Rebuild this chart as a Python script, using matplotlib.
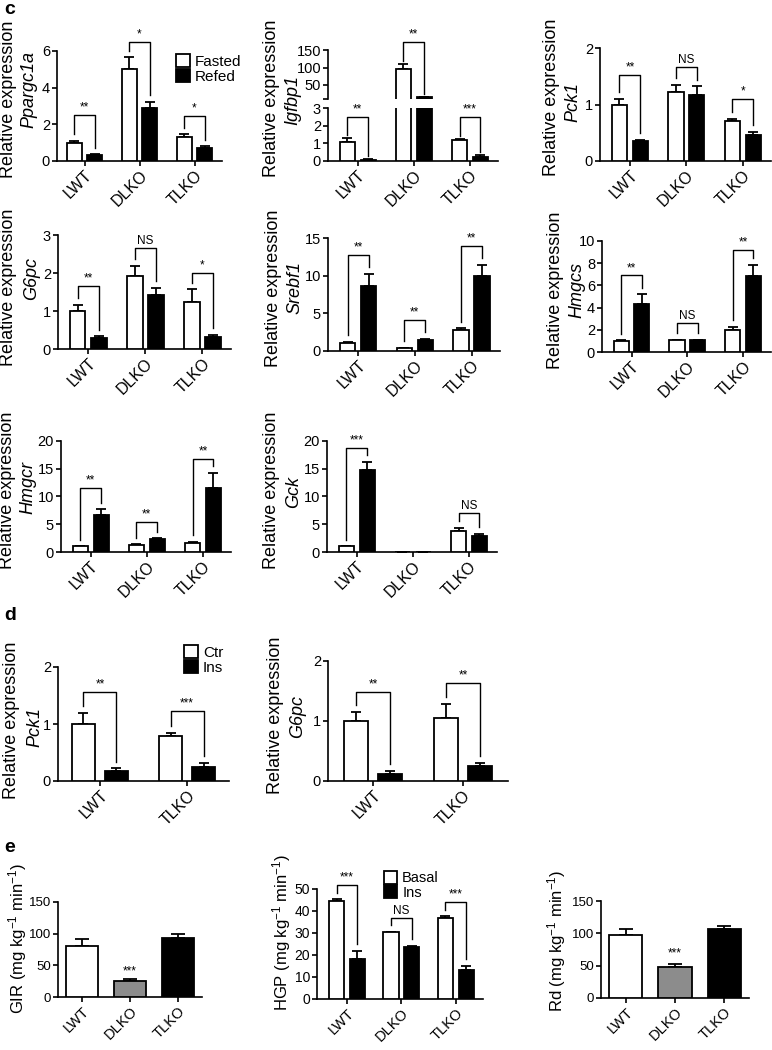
import numpy as np
import matplotlib
matplotlib.use('Agg')
import matplotlib.pyplot as plt
from matplotlib.patches import Patch

plt.rcParams['font.family'] = ['Liberation Sans', 'DejaVu Sans']
plt.rcParams['mathtext.fontset'] = 'custom'
plt.rcParams['mathtext.rm'] = 'Liberation Sans'
plt.rcParams['mathtext.it'] = 'Liberation Sans:italic'
plt.rcParams['axes.linewidth'] = 1.2

# --- data ---
groups3 = ['LWT', 'DLKO', 'TLKO']
groups2 = ['LWT', 'TLKO']

ppargc1a_fasted = [1.0, 5.0, 1.3];   ppargc1a_fasted_err = [0.1, 0.65, 0.15]
ppargc1a_refed = [0.33, 2.9, 0.7];   ppargc1a_refed_err = [0.04, 0.32, 0.1]
ppargc1a_sig = ['**', '*', '*'];     ppargc1a_br = [2.5, 6.5, 2.45]

igfbp1_fasted = [1.1, 95, 1.2];      igfbp1_fasted_err = [0.2, 15, 0.05]
igfbp1_refed = [0.08, 15, 0.25];     igfbp1_refed_err = [0.02, 2, 0.1]
igfbp1_sig = ['**', '**', '***'];    igfbp1_br = [2.5, 173, 2.5]

pck1_fasted = [1.0, 1.22, 0.7];      pck1_fasted_err = [0.1, 0.13, 0.05]
pck1_refed = [0.36, 1.17, 0.46];     pck1_refed_err = [0.01, 0.15, 0.05]
pck1_sig = ['**', 'NS', '*'];        pck1_br = [1.52, 1.66, 1.1]

g6pc_fasted = [1.0, 1.92, 1.25];     g6pc_fasted_err = [0.17, 0.27, 0.32]
g6pc_refed = [0.28, 1.43, 0.32];     g6pc_refed_err = [0.05, 0.17, 0.04]
g6pc_sig = ['**', 'NS', '*'];        g6pc_br = [1.66, 2.66, 2.0]

srebf1_fasted = [1.0, 0.35, 2.8];    srebf1_fasted_err = [0.2, 0.05, 0.2]
srebf1_refed = [8.6, 1.45, 9.9];     srebf1_refed_err = [1.6, 0.2, 1.5]
srebf1_sig = ['**', '**', '**'];     srebf1_br = [12.8, 4.1, 13.9]

hmgcs_fasted = [1.0, 1.05, 2.0];     hmgcs_fasted_err = [0.05, 0.05, 0.25]
hmgcs_refed = [4.35, 1.05, 6.85];    hmgcs_refed_err = [0.85, 0.05, 1.0]
hmgcs_sig = ['**', 'NS', '**'];      hmgcs_br = [6.9, 2.6, 9.2]

hmgcr_fasted = [1.0, 1.3, 1.7];      hmgcr_fasted_err = [0.05, 0.1, 0.1]
hmgcr_refed = [6.6, 2.3, 11.6];      hmgcr_refed_err = [1.1, 0.15, 2.7]
hmgcr_sig = ['**', '**', '**'];      hmgcr_br = [11.5, 5.4, 16.8]

gck_fasted = [1.0, 0.08, 3.8];       gck_fasted_err = [0.05, 0.0, 0.6]
gck_refed = [14.8, 0.06, 2.8];       gck_refed_err = [1.4, 0.0, 0.5]
gck_sig = ['***', '', 'NS'];         gck_br = [18.7, 0, 7.0]

d_pck1_ctr = [1.0, 0.79];            d_pck1_ctr_err = [0.2, 0.05]
d_pck1_ins = [0.18, 0.25];           d_pck1_ins_err = [0.04, 0.07]
d_pck1_sig = ['**', '***'];          d_pck1_br = [1.56, 1.23]

d_g6pc_ctr = [1.0, 1.05];            d_g6pc_ctr_err = [0.15, 0.23]
d_g6pc_ins = [0.12, 0.25];           d_g6pc_ins_err = [0.04, 0.05]
d_g6pc_sig = ['**', '**'];           d_g6pc_br = [1.48, 1.63]

gir = [80, 25, 93];                  gir_err = [12, 3, 6]
hgp_basal = [44.5, 30.3, 36.8];      hgp_basal_err = [0.8, 0.3, 0.8]
hgp_ins = [18, 23.8, 13.2];          hgp_ins_err = [4, 0.3, 1.8]
hgp_sig = ['***', 'NS', '***'];      hgp_br = [52, 36.8, 44]
rd = [98, 48, 106];                  rd_err = [8, 4, 5]
e_colors = ['white', '#8c8c8c', 'black']

W, H = 772, 1050
fig = plt.figure(figsize=(W / 100, H / 100), dpi=100)

LW = 1.3


def add_ax(l, r, t, b):
    return fig.add_axes([l / W, 1 - b / H, (r - l) / W, (b - t) / H])


def style(ax, ylim, yticks, xlim, labels, yfs=10.5, xfs=11.5):
    ax.set_ylim(ylim)
    ax.set_yticks(yticks)
    ax.set_xlim(xlim)
    ax.set_xticks(range(len(labels)))
    ax.set_xticklabels(labels, rotation=45, ha='right', rotation_mode='anchor')
    for s in ['top', 'right']:
        ax.spines[s].set_visible(False)
    ax.tick_params(length=3.5, width=1.2, pad=1.5)
    ax.tick_params(axis='y', labelsize=yfs)
    ax.tick_params(axis='x', labelsize=xfs)


def pair_bars(ax, a, ae, b, be, width=0.27, off=0.185):
    x = np.arange(len(a))
    ax.bar(x - off, a, width, color='white', edgecolor='black', linewidth=LW, zorder=3)
    ax.bar(x + off, b, width, color='black', edgecolor='black', linewidth=LW, zorder=3)
    z = np.zeros(len(a))
    ax.errorbar(x - off, a, yerr=[z, ae], fmt='none', ecolor='black',
                elinewidth=LW, capsize=3.5, capthick=LW, zorder=2)
    ax.errorbar(x + off, b, yerr=[z, be], fmt='none', ecolor='black',
                elinewidth=LW, capsize=3.5, capthick=LW, zorder=2)


def bracket(ax, x1, x2, y1, y2, yb, txt):
    span = ax.get_ylim()[1] - ax.get_ylim()[0]
    y1 = min(y1 + 0.06 * span, yb - 0.05 * span)
    y2 = min(y2 + 0.06 * span, yb - 0.05 * span)
    ax.plot([x1, x1, x2, x2], [y1, yb, yb, y2], color='black', lw=1.0,
            clip_on=False, zorder=4)
    ax.annotate(txt, ((x1 + x2) / 2, yb), xytext=(0, 1), textcoords='offset points',
                ha='center', va='bottom', fontsize=8.5, annotation_clip=False)


def brackets(ax, a, ae, b, be, sig, br, off=0.185):
    for i in range(len(a)):
        if sig[i]:
            bracket(ax, i - off, i + off, a[i] + ae[i], b[i] + be[i], br[i], sig[i])


def ylab(x1, x2, y1, y2, gene):
    fig.text(x1 / W, 1 - y1 / H, 'Relative expression', rotation=90,
             ha='center', va='center', fontsize=13)
    fig.text(x2 / W, 1 - y2 / H, gene, rotation=90, style='italic',
             ha='center', va='center', fontsize=13)


def pair_legend(ax, labels, x, y, fs=11):
    handles = [Patch(facecolor='white', edgecolor='black', linewidth=LW),
               Patch(facecolor='black', edgecolor='black', linewidth=LW)]
    ax.legend(handles, labels, loc='upper left', bbox_to_anchor=(x / W, 1 - y / H),
              bbox_transform=fig.transFigure, frameon=False, fontsize=fs,
              handlelength=0.9, handleheight=0.95, labelspacing=0.0,
              handletextpad=0.35, borderpad=0, borderaxespad=0)


XL3 = (-0.53, 2.5)

# ---------------- panel c ----------------
ax = add_ax(57, 222, 51, 161)
pair_bars(ax, ppargc1a_fasted, ppargc1a_fasted_err, ppargc1a_refed, ppargc1a_refed_err)
style(ax, (0, 6), [0, 2, 4, 6], (-0.5, 2.5), groups3)
brackets(ax, ppargc1a_fasted, ppargc1a_fasted_err, ppargc1a_refed, ppargc1a_refed_err,
         ppargc1a_sig, ppargc1a_br)
pair_legend(ax, ['Fasted', 'Refed'], 176, 54)
ylab(9, 29, 99, 90, 'Ppargc1a')

# Igfbp1 with broken axis
ax_t = add_ax(328, 498, 50, 99)
ax_b = add_ax(328, 498, 108, 161)
for a_ in (ax_t, ax_b):
    pair_bars(a_, igfbp1_fasted, igfbp1_fasted_err, igfbp1_refed, igfbp1_refed_err)
style(ax_b, (0, 3), [0, 1, 2, 3], XL3, groups3)
style(ax_t, (10, 150), [10, 50, 100, 150], XL3, groups3)
ax_t.set_yticklabels(['', '50', '100', '150'])
ax_t.spines['bottom'].set_visible(False)
ax_t.tick_params(axis='x', which='both', bottom=False, labelbottom=False)
for i in range(3):
    a_ = ax_t if igfbp1_fasted[i] > 3 else ax_b
    bracket(a_, i - 0.185, i + 0.185, igfbp1_fasted[i] + igfbp1_fasted_err[i],
            igfbp1_refed[i] + igfbp1_refed_err[i], igfbp1_br[i], igfbp1_sig[i])
ylab(271, 293, 98, 100, 'Igfbp1')

ax = add_ax(600, 771, 48, 161)
pair_bars(ax, pck1_fasted, pck1_fasted_err, pck1_refed, pck1_refed_err)
style(ax, (0, 2), [0, 1, 2], XL3, groups3)
brackets(ax, pck1_fasted, pck1_fasted_err, pck1_refed, pck1_refed_err, pck1_sig, pck1_br)
ylab(552, 573, 97, 102, 'Pck1')

ax = add_ax(58, 231, 235, 349)
pair_bars(ax, g6pc_fasted, g6pc_fasted_err, g6pc_refed, g6pc_refed_err)
style(ax, (0, 3), [0, 1, 2, 3], XL3, groups3)
brackets(ax, g6pc_fasted, g6pc_fasted_err, g6pc_refed, g6pc_refed_err, g6pc_sig, g6pc_br)
ylab(9, 32, 287, 278, 'G6pc')

ax = add_ax(328, 500, 238, 351)
pair_bars(ax, srebf1_fasted, srebf1_fasted_err, srebf1_refed, srebf1_refed_err)
style(ax, (0, 15), [0, 5, 10, 15], XL3, groups3)
brackets(ax, srebf1_fasted, srebf1_fasted_err, srebf1_refed, srebf1_refed_err,
         srebf1_sig, srebf1_br)
ylab(273, 295, 288, 287, 'Srebf1')

ax = add_ax(602, 771, 241, 352)
pair_bars(ax, hmgcs_fasted, hmgcs_fasted_err, hmgcs_refed, hmgcs_refed_err)
style(ax, (0, 10), [0, 2, 4, 6, 8, 10], XL3, groups3)
brackets(ax, hmgcs_fasted, hmgcs_fasted_err, hmgcs_refed, hmgcs_refed_err,
         hmgcs_sig, hmgcs_br)
ylab(555, 577, 290, 290, 'Hmgcs')

ax = add_ax(61, 231, 441, 552)
pair_bars(ax, hmgcr_fasted, hmgcr_fasted_err, hmgcr_refed, hmgcr_refed_err)
style(ax, (0, 20), [0, 5, 10, 15, 20], XL3, groups3)
brackets(ax, hmgcr_fasted, hmgcr_fasted_err, hmgcr_refed, hmgcr_refed_err,
         hmgcr_sig, hmgcr_br)
ylab(8, 28, 490, 487, 'Hmgcr')

ax = add_ax(327, 497, 441, 552)
pair_bars(ax, gck_fasted, gck_fasted_err, gck_refed, gck_refed_err)
style(ax, (0, 20), [0, 5, 10, 15, 20], XL3, groups3)
brackets(ax, gck_fasted, gck_fasted_err, gck_refed, gck_refed_err, gck_sig, gck_br)
ylab(271, 294, 490, 492, 'Gck')

# ---------------- panel d ----------------
ax = add_ax(58, 229, 667, 781)
pair_bars(ax, d_pck1_ctr, d_pck1_ctr_err, d_pck1_ins, d_pck1_ins_err, width=0.26, off=0.19)
style(ax, (0, 2), [0, 1, 2], (-0.48, 1.48), groups2)
brackets(ax, d_pck1_ctr, d_pck1_ctr_err, d_pck1_ins, d_pck1_ins_err, d_pck1_sig,
         d_pck1_br, off=0.19)
pair_legend(ax, ['Ctr', 'Ins'], 184, 645)
ylab(12, 35, 720, 727, 'Pck1')

ax = add_ax(328, 508, 661, 781)
pair_bars(ax, d_g6pc_ctr, d_g6pc_ctr_err, d_g6pc_ins, d_g6pc_ins_err, width=0.26, off=0.19)
style(ax, (0, 2), [0, 1, 2], (-0.5, 1.5), groups2)
brackets(ax, d_g6pc_ctr, d_g6pc_ctr_err, d_g6pc_ins, d_g6pc_ins_err, d_g6pc_sig,
         d_g6pc_br, off=0.19)
ylab(276, 298, 715, 717, 'G6pc')

# ---------------- panel e ----------------
unit = ' (mg kg$^{-1}$ min$^{-1}$)'

ax = add_ax(58, 202, 902, 997)
ax.bar(range(3), gir, 0.67, color=e_colors, edgecolor='black', linewidth=LW, zorder=3)
ax.errorbar(range(3), gir, yerr=[np.zeros(3), gir_err], fmt='none', ecolor='black',
            elinewidth=LW, capsize=5, capthick=LW, zorder=2)
style(ax, (0, 150), [0, 50, 100, 150], (-0.5, 2.5), groups3, yfs=9.5, xfs=10.5)
ax.text(1, 31, '***', ha='center', va='bottom', fontsize=8.5)
fig.text(18 / W, 1 - 939 / H, 'GIR' + unit, rotation=90, ha='center', va='center', fontsize=12)

ax = add_ax(317, 483, 889, 999)
pair_bars(ax, hgp_basal, hgp_basal_err, hgp_ins, hgp_ins_err, width=0.28, off=0.19)
style(ax, (0, 50), [0, 10, 20, 30, 40, 50], (-0.55, 2.5), groups3, yfs=10, xfs=10.5)
brackets(ax, hgp_basal, hgp_basal_err, hgp_ins, hgp_ins_err, hgp_sig, hgp_br, off=0.19)
pair_legend(ax, ['Basal', 'Ins'], 384, 871, fs=10.5)
fig.text(282 / W, 1 - 932 / H, 'HGP' + unit, rotation=90, ha='center', va='center', fontsize=12)

ax = add_ax(601, 749, 901, 998)
ax.bar(range(3), rd, 0.68, color=e_colors, edgecolor='black', linewidth=LW, zorder=3)
ax.errorbar(range(3), rd, yerr=[np.zeros(3), rd_err], fmt='none', ecolor='black',
            elinewidth=LW, capsize=5, capthick=LW, zorder=2)
style(ax, (0, 150), [0, 50, 100, 150], (-0.5, 2.5), groups3, yfs=9.5, xfs=10.5)
ax.text(1, 59, '***', ha='center', va='bottom', fontsize=8.5)
fig.text(557 / W, 1 - 941 / H, 'Rd' + unit, rotation=90, ha='center', va='center', fontsize=12)

# panel letters
for lab, y in [('c', 9), ('d', 615), ('e', 847)]:
    fig.text(10 / W, 1 - y / H, lab, ha='center', va='center', fontsize=14, fontweight='bold')

fig.savefig('out.png', dpi=100)
